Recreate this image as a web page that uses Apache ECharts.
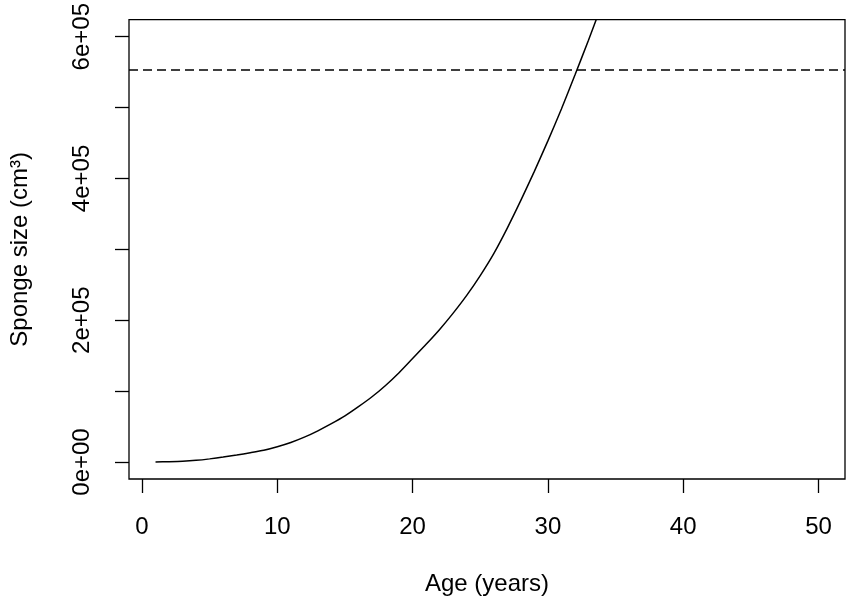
<!DOCTYPE html>
<html>
<head>
<meta charset="utf-8">
<script src="https://cdn.jsdelivr.net/npm/echarts@6/dist/echarts.min.js"></script>
<style>html,body{margin:0;padding:0;background:#fff}#c{width:850px;height:603px}</style>
</head>
<body>
<div id="c"></div>
<script>
const ages = [1,2,3,4,5,6,7,8,9,10,11,12,13,14,15,16,17,18,19,20,21,22,23,24,25,26,27,28,29,30,31,32,33,34];
const sizes = [0,400,1000,2300,4400,7000,9800,13000,16500,21500,27500,35000,44000,54000,65000,78000,92000,108000,126000,146000,166000,187000,210000,235000,263000,294000,330000,369000,410000,453000,498000,546000,595000,646000];
const thresholdSize = 553000;
const xTicks = [0,10,20,30,40,50];
const yTicks = [0,100000,200000,300000,400000,500000,600000];
const yLabelValues = [0,200000,400000,600000];
const yTickLabels = ['0e+00','2e+05','4e+05','6e+05'];

const font = 'Liberation Sans, Arial, sans-serif';
const chart = echarts.init(document.getElementById('c'), null, {renderer: 'canvas'});
chart.setOption({
  animation: false,
  backgroundColor: '#fff',
  grid: {left: 128, top: 18, right: 5, bottom: 124, show: true, borderColor: '#000', borderWidth: 1.3, backgroundColor: 'transparent'},
  xAxis: {
    type: 'value', min: -0.96, max: 51.96,
    name: 'Age (years)', nameLocation: 'middle', nameGap: 93,
    nameTextStyle: {fontFamily: font, fontSize: 24, color: '#000'},
    axisLine: {show: false, onZero: false},
    axisTick: {show: true, length: 14, customValues: xTicks, lineStyle: {color: '#000', width: 1.3}},
    axisLabel: {customValues: xTicks, margin: 36, fontFamily: font, fontSize: 24, color: '#000'},
    splitLine: {show: false}
  },
  yAxis: {
    type: 'value', min: -24000, max: 624000,
    name: 'Sponge size (cm³)', nameLocation: 'middle', nameGap: 97,
    nameTextStyle: {fontFamily: font, fontSize: 24, color: '#000'},
    axisLine: {show: false, onZero: false},
    axisTick: {show: true, length: 14, customValues: yTicks, lineStyle: {color: '#000', width: 1.3}},
    axisLabel: {
      customValues: yLabelValues, rotate: 90, margin: 35,
      fontFamily: font, fontSize: 24, color: '#000',
      formatter: function (v) { const i = yLabelValues.indexOf(v); return i >= 0 ? yTickLabels[i] : ''; }
    },
    splitLine: {show: false}
  },
  series: [{
    type: 'line',
    data: ages.map((a, i) => [a, sizes[i]]),
    showSymbol: false,
    clip: true,
    smooth: 0.2,
    lineStyle: {color: '#000', width: 1.5},
    markLine: {
      silent: true, symbol: 'none', label: {show: false},
      lineStyle: {color: '#000', width: 1.5, type: [9, 5]},
      data: [{yAxis: thresholdSize}]
    }
  }]
});
</script>
</body>
</html>
